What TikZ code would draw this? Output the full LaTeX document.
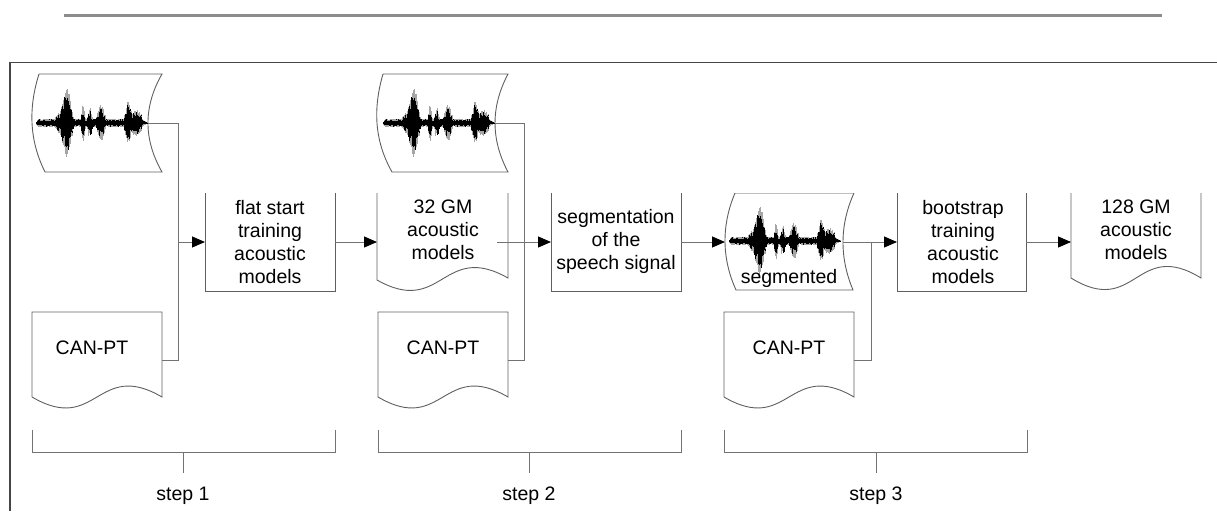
\documentclass[tikz,border=0pt]{standalone}
\usepackage{fontspec}
\setmainfont{Liberation Sans}
\usetikzlibrary{arrows.meta}
\definecolor{linec}{RGB}{115,115,115}
\definecolor{shapec}{RGB}{95,95,95}
\definecolor{framec}{RGB}{70,70,70}
\definecolor{rulec}{RGB}{140,140,140}
\newcommand\speechwave[2]{%
  \pgfmathsetseed{11}%
  \foreach \t in {0,0.6,...,112}{%
    \pgfmathsetmacro\env{(4.5+31*bsq(\t,31,7.5)+7*bmp(\t,24,5)+15*bsq(\t,47,2.8)+11*bsq(\t,54,3.2)+15*bsq(\t,65,5.5)+18*bsq(\t,92,4.5)+9*bmp(\t,100,7))*min(1,(\t+1)/4,(113-\t)/8)}%
    \pgfmathsetmacro\ra{\env*(0.7+0.3*rnd)}%
    \pgfmathsetmacro\rb{\env*(0.7+0.3*rnd)}%
    \pgfmathsetmacro\rc{\env*(0.4+0.45*rnd)}%
    \pgfmathsetmacro\rd{\env*(0.4+0.45*rnd)}%
    \draw[black!35,line width=0.7pt] (#1+\t,#2-\ra) -- (#1+\t,#2+\rb);
    \draw[black,line width=0.7pt] (#1+\t,#2-\rc) -- (#1+\t,#2+\rd);
  }}
\begin{document}
\begin{tikzpicture}[x=1pt,y=-1pt,
  declare function={bmp(\x,\c,\s)=max(0,1-((\x-\c)/\s)*((\x-\c)/\s));
                    bsq(\x,\c,\s)=bmp(\x,\c,\s)*bmp(\x,\c,\s);},
  every node/.style={inner sep=0pt, outer sep=0pt},
  lbl/.style={font=\fontsize{19.5}{23}\selectfont, align=center, text=black},
  outline/.style={draw=shapec, line width=0.9pt},
  conn/.style={draw=linec, line width=1pt},
  arr/.style={conn, -{Triangle[length=13pt,width=11pt,color=black]}},
  brk/.style={draw=linec, line width=0.9pt}]
\useasboundingbox (0,0) rectangle (1217,511);
% top rule and frame
\draw[rulec, line width=3pt] (64,16) -- (1162,16);
\draw[framec, line width=1.6pt] (10,511) -- (10,62.5) -- (1217,62.5);

% ---- shape nodes (invisible containers) ----
\node[minimum width=116pt, minimum height=98pt] (w1) at (90,123) {};
\node[minimum width=118pt, minimum height=98pt] (w2) at (436,123) {};
\node[minimum width=118pt, minimum height=98pt] (w3) at (784,242) {};
\node[minimum width=130pt, minimum height=98pt] (b1) at (270,242) {};
\node[minimum width=131pt, minimum height=98pt] (d1) at (442.5,242) {};
\node[minimum width=130pt, minimum height=98pt] (b2) at (616,242) {};
\node[minimum width=129pt, minimum height=98pt] (b3) at (961.5,242) {};
\node[minimum width=130pt, minimum height=98pt] (d3) at (1136,242) {};
\node[minimum width=130pt, minimum height=96pt] (c1) at (97,360) {};
\node[minimum width=130pt, minimum height=96pt] (c2) at (443,360) {};
\node[minimum width=130pt, minimum height=96pt] (c3) at (789,360) {};

% ---- outlines ----
% speech signal tapes
\draw[outline] (39,74) -- (162,74) .. controls (143.3,106.7) and (143.3,139.3) .. (162,172) -- (45,172) .. controls (28.7,139.3) and (28.7,106.7) .. (39,74);
\draw[outline] (383,74) -- (508,74) .. controls (490.7,106.7) and (490.7,139.3) .. (508,172) -- (392,172) .. controls (373.5,139.3) and (373.5,106.7) .. (383,74);
\draw[draw=black!25, line width=0.8pt] (735,193) -- (854,193);
\draw[outline] (854,193) .. controls (839.5,225) and (839.5,258) .. (853,290) -- (736,290) .. controls (721.5,258) and (721.5,225) .. (735,193);
% waveforms
\speechwave{36}{123}
\speechwave{383}{123}
\speechwave{729}{241}
% boxes with open tops
\draw[outline] (205,193) -- (205,291) -- (335,291) -- (335,193);
\draw[outline] (551,193) -- (551,291) -- (681,291) -- (681,193);
\draw[outline] (897,193) -- (897,291) -- (1026,291) -- (1026,193);
% documents with open tops
\draw[outline] (377,193) -- (377,280) .. controls (442.5,317) and (442.5,241) .. (508,278) -- (508,193);
\draw[outline] (1071,193) -- (1071,278) .. controls (1136,318) and (1136,238) .. (1201,278) -- (1201,193);
% CAN-PT documents
\draw[outline] (32,397) -- (32,312) -- (162,312) -- (162,397) .. controls (97,359) and (97,435) .. (32,397);
\draw[outline] (378,397) -- (378,312) -- (508,312) -- (508,397) .. controls (443,359) and (443,435) .. (378,397);
\draw[outline] (724,397) -- (724,312) -- (854,312) -- (854,397) .. controls (789,359) and (789,435) .. (724,397);

% ---- texts ----
\node[lbl] (b1t) at (270,242) {flat start\\training\\acoustic\\models};
\node[lbl] (d1t) at (443,230) {32 GM\\acoustic\\models};
\node[lbl] (b2t) at (616,241) {segmentation\\of the\\speech signal};
\node[lbl] (w3t) at (789,278) {segmented};
\node[lbl] (b3t) at (963,242) {bootstrap\\training\\acoustic\\models};
\node[lbl] (d3t) at (1136,230) {128 GM\\acoustic\\models};
\node[lbl] (c1t) at (92,348) {CAN-PT};
\node[lbl] (c2t) at (443,348) {CAN-PT};
\node[lbl] (c3t) at (789,348) {CAN-PT};

% ---- connectors ----
\coordinate (j1) at (178,242);
\coordinate (j2) at (524,242);
\coordinate (j3) at (871,242);
\draw[conn] (w1.east) -| (j1);
\draw[conn] (c1.east) -| (j1);
\draw[arr] (j1) -- (b1.west);
\draw[arr] (b1.east) -- (d1.west);
\draw[conn] (w2.east) -| (j2);
\draw[conn] (c2.east) -| (j2);
\draw[arr] ([xshift=-11pt]d1.east) -- (b2.west);
\draw[arr] (b2.east) -- (w3.west);
\draw[arr] (w3.east) -- (b3.west);
\draw[conn] (c3.east) -| (j3);
\draw[arr] (b3.east) -- (d3.west);

% ---- step brackets ----
\draw[brk] (32,430) -- (32,452) -- (335,452) -- (335,430);
\draw[brk] (183,452) -- (183,473);
\node[lbl] (s1) at (183,496) {step 1};
\draw[brk] (378,430) -- (378,452) -- (681,452) -- (681,430);
\draw[brk] (529,452) -- (529,473);
\node[lbl] (s2) at (529,496) {step 2};
\draw[brk] (724,430) -- (724,452) -- (1027,452) -- (1027,430);
\draw[brk] (876,452) -- (876,473);
\node[lbl] (s3) at (876,496) {step 3};
\end{tikzpicture}
\end{document}
